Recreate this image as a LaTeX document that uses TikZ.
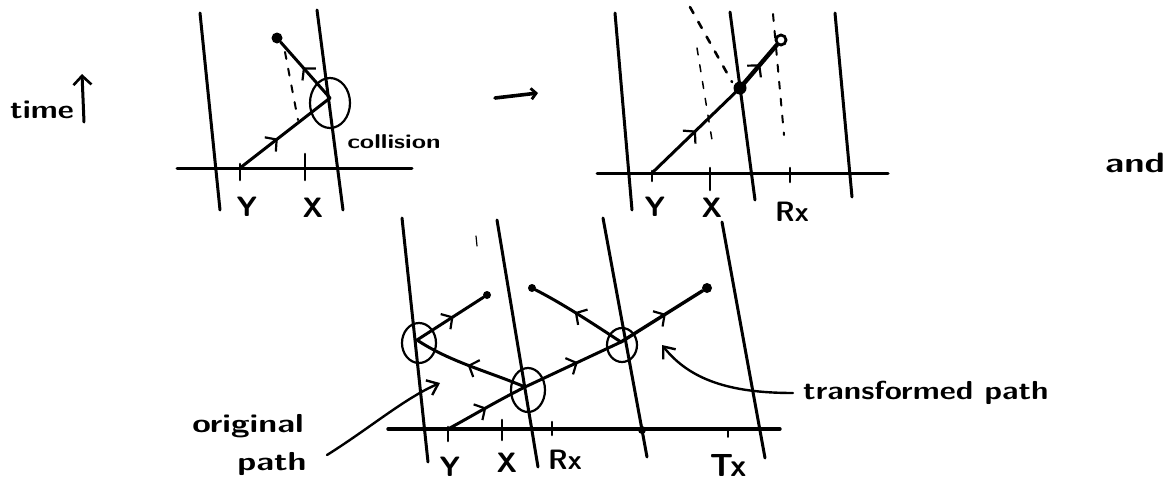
\documentclass[tikz,border=0pt]{standalone}
\usetikzlibrary{arrows.meta,decorations.markings,shapes.geometric}
\newcommand{\hwide}[2]{\scalebox{#1}[1]{#2}}
\begin{document}
\begin{tikzpicture}[x=1pt,y=-1pt,
  ink/.style={line width=3pt, line cap=round, line join=round},
  thinink/.style={line width=1.6pt, line cap=round, line join=round},
  dashink/.style={line width=2pt, dash pattern=on 7pt off 10pt, line cap=round},
  midarrow/.style={postaction={decorate}, decoration={markings, mark=at position #1 with {\arrow{Straight Barb[length=8pt,width=18pt,line width=2.2pt]}}}},
  midarrow/.default=0.5,
  blob/.style={circle, fill, inner sep=0pt, minimum size=#1},
  ring/.style={ellipse, draw, line width=2.2pt, inner sep=0pt},
  lbl/.style={font=\sffamily\bfseries\fontsize{28}{28}\selectfont, inner sep=0pt},
  tickmark/.style={line width=2.6pt, line cap=round},
  ptr/.style={line width=2.4pt, line cap=round, -{Straight Barb[length=10pt,width=16pt,line width=2.4pt]}},
]
\useasboundingbox (0,0) rectangle (1168,488);

% ---------- time arrow ----------
\node[lbl, font=\sffamily\bfseries\fontsize{26}{26}\selectfont, anchor=base] (time) at (42,118) {\hwide{1.2}{time}};
\coordinate (ta1) at (84,122);
\coordinate (ta2) at (82,74);
\draw[ink, -{Straight Barb[length=9pt,width=18pt,line width=2.6pt]}] (ta1) -- (ta2);

% ---------- panel 1 ----------
\coordinate (p1L1) at (200,13);  \coordinate (p1L2) at (220,210);
\coordinate (p1R1) at (317,10);  \coordinate (p1R2) at (343,210);
\coordinate (p1A1) at (177,168); \coordinate (p1A2) at (412,168);
\draw[ink] (p1L1) -- (p1L2);
\draw[ink] (p1R1) -- (p1R2);
\draw[ink] (p1A1) -- (p1A2);
\coordinate (p1y) at (240,168);
\coordinate (p1x) at (305,168);
\draw[tickmark] (p1y) ++(0,-4) -- ++(0,16);
\draw[tickmark] (p1x) ++(0,-14) -- ++(0,26);
\coordinate (p1c) at (330,98);
\node[ring, minimum width=40pt, minimum height=50pt] (col1) at (330,103) {};
\node[blob=11pt] (p1e) at (277,38) {};
\draw[ink, midarrow=0.42] (p1y) -- (p1c);
\draw[ink, midarrow=0.55] (p1c) -- (p1e);
\coordinate (p1d1) at (285,52); \coordinate (p1d2) at (298,120);
\draw[dashink] (p1d1) -- (p1d2);
\node[lbl] (p1Y) at (247,207) {Y};
\node[lbl] (p1X) at (313,208) {X};
\node[lbl, font=\sffamily\bfseries\fontsize{20}{20}\selectfont] (colltxt) at (394,142) {\hwide{1.3}{collision}};

% ---------- transition arrow ----------
\coordinate (tr1) at (495,98);
\coordinate (tr2) at (538,93);
\draw[line width=3.6pt, line cap=round, -{Straight Barb[length=5pt,width=11pt,line width=2.8pt]}] (tr1) -- (tr2);

% ---------- panel 2 ----------
\coordinate (p2L1) at (615,13);  \coordinate (p2L2) at (632,210);
\coordinate (p2M1) at (730,12);  \coordinate (p2M2) at (755,200);
\coordinate (p2R1) at (835,13);  \coordinate (p2R2) at (852,197);
\coordinate (p2A1) at (597,173); \coordinate (p2A2) at (888,173);
\draw[ink] (p2L1) -- (p2L2);
\draw[ink] (p2M1) -- (p2M2);
\draw[ink] (p2R1) -- (p2R2);
\draw[ink] (p2A1) -- (p2A2);
\coordinate (p2y) at (652,173);
\coordinate (p2x) at (710,173);
\coordinate (p2rx) at (790,173);
\draw[tickmark] (p2x) ++(0,-5) -- ++(0,22);
\draw[tickmark] (p2rx) ++(0,-5) -- ++(0,14);
\draw[tickmark] (p2y) ++(0,-2) -- ++(0,10);
\node[blob=13pt] (p2c) at (740,88) {};
\node[circle, draw, line width=2.8pt, minimum size=10pt, inner sep=0pt] (p2e) at (781,40) {};
\draw[ink, midarrow=0.5] (p2y) -- (p2c.center);
\draw[line width=4.4pt, line cap=round, midarrow=0.55] (p2c.center) -- (p2e);
\coordinate (p2d1) at (690,7);   \coordinate (p2d2) at (732,82);
\coordinate (p2d3) at (697,48);  \coordinate (p2d4) at (712,140);
\coordinate (p2d5) at (773,14);  \coordinate (p2d6) at (784,135);
\draw[dashink, line width=2.6pt] (p2d1) -- (p2d2);
\draw[dashink, line width=1.5pt] (p2d3) -- (p2d4);
\draw[dashink] (p2d5) -- (p2d6);
\node[lbl] (p2Y) at (655,207) {Y};
\node[lbl] (p2X) at (712,208) {X};
\node[lbl] (p2R) at (792,212) {Rx};

% ---------- and ----------
\node[lbl, anchor=base west] (andtxt) at (1105,172) {\hwide{1.3}{and}};

% ---------- bottom panel ----------
\coordinate (b1a) at (402,218); \coordinate (b1b) at (428,462);
\coordinate (b2a) at (497,220); \coordinate (b2b) at (538,467);
\coordinate (b3a) at (603,218); \coordinate (b3b) at (647,457);
\coordinate (b4a) at (722,222); \coordinate (b4b) at (765,458);
\coordinate (bA1) at (388,429); \coordinate (bA2) at (780,429);
\draw[ink] (b1a) -- (b1b);
\draw[ink] (b2a) -- (b2b);
\draw[ink] (b3a) -- (b3b);
\draw[ink] (b4a) -- (b4b);
\draw[ink, line width=3.4pt] (bA1) -- (bA2);
\coordinate (bfa) at (476,236); \coordinate (bfb) at (477,246);
\draw[thinink, line width=1.2pt] (bfa) -- (bfb);
\coordinate (by) at (448,429);
\coordinate (bx) at (502,429);
\coordinate (brx) at (552,429);
\coordinate (btx) at (728,429);
\draw[tickmark] (by) ++(0,-2) -- ++(0,14);
\draw[tickmark] (bx) ++(0,-9) -- ++(0,20);
\draw[tickmark] (brx) ++(0,-7) -- ++(0,13);
\draw[tickmark, line width=1.6pt] (btx) ++(0,1) -- ++(0,7);
\node[blob=8pt] (b3dot) at (642,430) {};

\node[ring, minimum width=34pt, minimum height=40pt] (c1) at (419,343) {};
\node[ring, minimum width=34pt, minimum height=44pt] (c2) at (528,390) {};
\node[ring, minimum width=30pt, minimum height=34pt] (c3) at (622,345) {};
\coordinate (k1) at (417,340);
\coordinate (k2) at (525,387);
\coordinate (k3) at (621,342);
\node[blob=8pt] (e1) at (487,295) {};
\node[blob=8pt] (e2) at (532,288) {};
\node[blob=10pt] (e3) at (707,288) {};

% original path
\draw[ink, midarrow=0.5] (by) .. controls (465,420) and (495,402) .. (k2);
\draw[ink, midarrow=0.55] (k2) -- (k3);
\draw[ink, line width=3.4pt, midarrow=0.55] (k3) -- (e3);
% transformed path
\draw[ink, midarrow=0.55] (k1) -- (e1);
\draw[ink, midarrow=0.52] (k2) .. controls (490,372) and (450,362) .. (k1);
\draw[ink, midarrow=0.55] (k3) .. controls (595,325) and (565,305) .. (e2);

\node[lbl] (bY) at (450,467) {Y};
\node[lbl] (bX) at (507,463) {X};
\node[lbl] (bR) at (565,460) {Rx};
\node[lbl, font=\sffamily\bfseries\fontsize{32}{32}\selectfont] (bT) at (728,465) {Tx};

% labels with pointers
\node[lbl, font=\sffamily\bfseries\fontsize{26}{26}\selectfont, anchor=base] (orig1) at (248,432) {\hwide{1.3}{original}};
\node[lbl, font=\sffamily\bfseries\fontsize{26}{26}\selectfont, anchor=base] (orig2) at (272,470) {\hwide{1.3}{path}};
\coordinate (opstart) at (327,455);
\coordinate (optip) at (440,383);
\draw[ptr] (opstart) .. controls (370,428) and (405,398) .. (optip);

\node[lbl, font=\sffamily\bfseries\fontsize{26}{26}\selectfont, anchor=west, inner xsep=10pt] (tp) at (793,393) {\hwide{1.2}{transformed path}};
\coordinate (tptip) at (662,345);
\draw[ptr] (tp.west) .. controls (730,393) and (690,380) .. (tptip);

\end{tikzpicture}
\end{document}
